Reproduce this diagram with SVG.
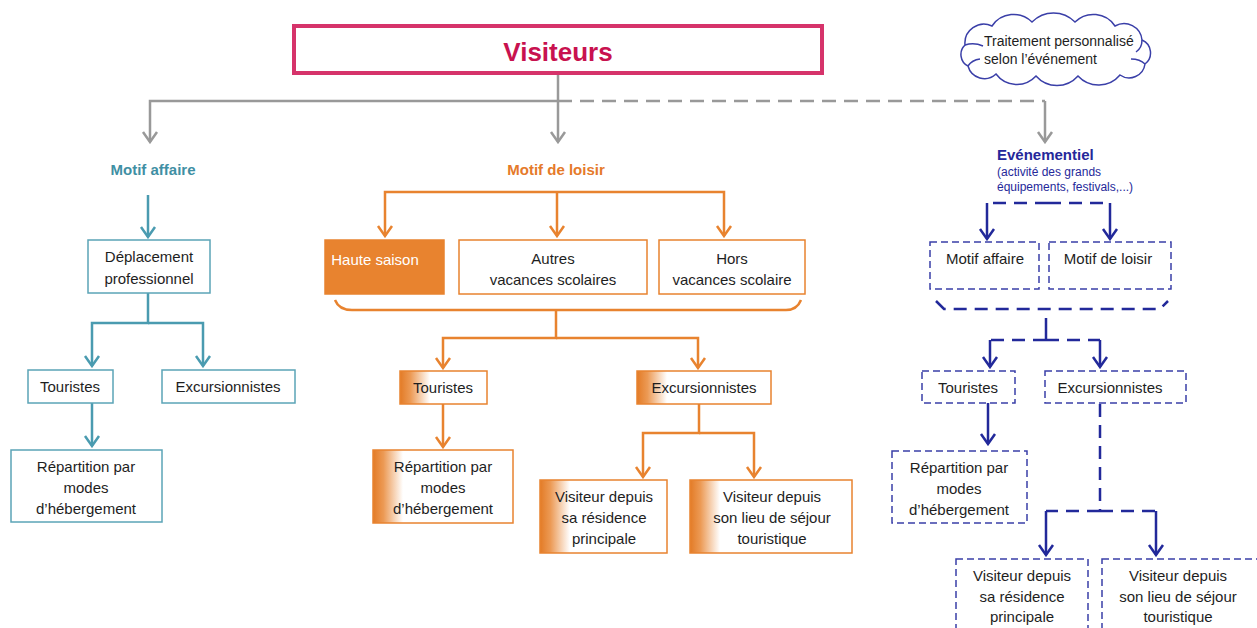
<svg xmlns="http://www.w3.org/2000/svg" width="1257" height="628" viewBox="0 0 1257 628">
<style>
text{font-family:"Liberation Sans","Open Sans",Arial,sans-serif;font-size:15px;fill:#1e1e1e;text-anchor:middle}
.t{font-weight:bold}
.teal{fill:#3f8fa4}
.or{fill:#e57a2a}
.nv{fill:#25289a}
.bx-t{fill:#fff;stroke:#5ba4b7;stroke-width:1.5}
.bx-o{fill:#fff;stroke:#e8832f;stroke-width:1.5}
.bx-b{fill:#fff;stroke:#3a3fa8;stroke-width:1.5;stroke-dasharray:7 4}
.c-g{fill:none;stroke:#999;stroke-width:2.5}
.c-t{fill:none;stroke:#4a9bb0;stroke-width:2.5}
.c-o{fill:none;stroke:#e8832f;stroke-width:2.5}
.c-b{fill:none;stroke:#22299a;stroke-width:2.5}
.dg{stroke-dasharray:14 8}
.db{stroke-dasharray:13 8}
</style>
<defs>
<linearGradient id="og" x1="0" y1="0" x2="1" y2="0">
<stop offset="0" stop-color="#e37b26"/>
<stop offset="0.35" stop-color="#ec9a55"/>
<stop offset="1" stop-color="#ffffff"/>
</linearGradient>
<marker id="ag" viewBox="-2 -2 14 18" refX="10" refY="7" markerWidth="14" markerHeight="18" markerUnits="userSpaceOnUse" orient="auto"><path d="M0,0 L10,7 L0,14" fill="none" stroke="#999" stroke-width="2.5" stroke-dasharray="none"/></marker>
<marker id="at" viewBox="-2 -2 14 18" refX="10" refY="7" markerWidth="14" markerHeight="18" markerUnits="userSpaceOnUse" orient="auto"><path d="M0,0 L10,7 L0,14" fill="none" stroke="#4a9bb0" stroke-width="2.5" stroke-dasharray="none"/></marker>
<marker id="ao" viewBox="-2 -2 14 18" refX="10" refY="7" markerWidth="14" markerHeight="18" markerUnits="userSpaceOnUse" orient="auto"><path d="M0,0 L10,7 L0,14" fill="none" stroke="#e8832f" stroke-width="2.5" stroke-dasharray="none"/></marker>
<marker id="ab" viewBox="-2 -2 14 18" refX="10" refY="7" markerWidth="14" markerHeight="18" markerUnits="userSpaceOnUse" orient="auto"><path d="M0,0 L10,7 L0,14" fill="none" stroke="#22299a" stroke-width="2.5" stroke-dasharray="none"/></marker>
</defs>
<rect width="1257" height="628" fill="#fff"/>

<g id="connectors">
<path class="c-g" d="M558,74 V142" marker-end="url(#ag)"/>
<path class="c-g" d="M558,101 H150 V142" marker-end="url(#ag)"/>
<path class="c-g dg" d="M558,101 H1045"/>
<path class="c-g" d="M1045,101 V142" marker-end="url(#ag)"/>

<path class="c-t" d="M148,195 V237" marker-end="url(#at)"/>
<path class="c-t" d="M148,293 V323 H92 V366" marker-end="url(#at)"/>
<path class="c-t" d="M148,323 H203 V366" marker-end="url(#at)"/>
<path class="c-t" d="M92,403 V446" marker-end="url(#at)"/>

<path class="c-o" d="M557,192 V236" marker-end="url(#ao)"/>
<path class="c-o" d="M557,192 H385 V236" marker-end="url(#ao)"/>
<path class="c-o" d="M557,192 H724 V236" marker-end="url(#ao)"/>
<path class="c-o" d="M335,300 Q339,310 352,310 H786 Q797,310 801,300"/>
<path class="c-o" d="M556,310 V338 H443 V368" marker-end="url(#ao)"/>
<path class="c-o" d="M556,338 H698 V368" marker-end="url(#ao)"/>
<path class="c-o" d="M443,403 V447" marker-end="url(#ao)"/>
<path class="c-o" d="M699,403 V433 H643 V477" marker-end="url(#ao)"/>
<path class="c-o" d="M699,433 H754 V477" marker-end="url(#ao)"/>

<path class="c-b db" d="M1048,203 H987"/>
<path class="c-b db" d="M1048,203 H1110"/>
<path class="c-b" d="M987,203 V239" marker-end="url(#ab)"/>
<path class="c-b" d="M1110,203 V239" marker-end="url(#ab)"/>
<path class="c-b db" d="M936,301 L944,309 H1160 L1168,301"/>
<path class="c-b" d="M1046,318 V340"/>
<path class="c-b db" d="M1046,340 H990"/>
<path class="c-b db" d="M1046,340 H1100"/>
<path class="c-b" d="M990,340 V367" marker-end="url(#ab)"/>
<path class="c-b" d="M1100,340 V367" marker-end="url(#ab)"/>
<path class="c-b" d="M988,403 V444" marker-end="url(#ab)"/>
<path class="c-b db" d="M1100,404 V511"/>
<path class="c-b db" d="M1100,511 H1046"/>
<path class="c-b db" d="M1100,511 H1156"/>
<path class="c-b" d="M1046,511 V555" marker-end="url(#ab)"/>
<path class="c-b" d="M1156,511 V555" marker-end="url(#ab)"/>
</g>

<g id="visiteurs">
<rect x="294" y="26" width="528" height="47" fill="#fff" stroke="#d6336b" stroke-width="4"/>
<text x="558" y="61" class="t" style="font-size:26px;fill:#c8124f">Visiteurs</text>
</g>

<g id="cloud">
<path d="M965,45 A19,19 0 0 1 992,26 A26,26 0 0 1 1032,22 A30,30 0 0 1 1075,22 A26,26 0 0 1 1115,26 A18,18 0 0 1 1142,40 A14,14 0 0 1 1145,64 A16,16 0 0 1 1120,75 A28,28 0 0 1 1078,76 A28,28 0 0 1 1036,76 A26,26 0 0 1 996,74 A17,17 0 0 1 968,66 A13,13 0 0 1 965,45 Z" fill="#fff" stroke="#3a3fa8" stroke-width="1.5"/>
<path d="M965,45 q9,-3 18,1 M968,66 q4,-6 12,-7 M1142,40 q0,8 -6,12 M1145,64 q-5,-5 -14,-5" fill="none" stroke="#3a3fa8" stroke-width="1.5"/>
<text x="984" y="46" style="text-anchor:start;font-size:14px">Traitement personnalisé</text>
<text x="984" y="64" style="text-anchor:start;font-size:14px">selon l’événement</text>
</g>

<g id="motif-affaire">
<text x="153" y="175" class="t teal">Motif affaire</text>
</g>
<g id="deplacement">
<rect class="bx-t" x="88" y="240" width="122" height="53"/>
<text x="149" y="262">Déplacement</text>
<text x="149" y="284">professionnel</text>
</g>
<g id="a-touristes">
<rect class="bx-t" x="28" y="370" width="85" height="33"/>
<text x="70" y="392">Touristes</text>
</g>
<g id="a-excursionnistes">
<rect class="bx-t" x="162" y="370" width="133" height="33"/>
<text x="228" y="392">Excursionnistes</text>
</g>
<g id="a-repartition">
<rect class="bx-t" x="11" y="450" width="151" height="72"/>
<text x="86" y="472">Répartition par</text>
<text x="86" y="493">modes</text>
<text x="86" y="514">d’hébergement</text>
</g>

<g id="motif-loisir">
<text x="556" y="175" class="t or">Motif de loisir</text>
</g>
<g id="haute-saison">
<rect x="325" y="240" width="119" height="54" fill="#e8832f" stroke="#e8832f" stroke-width="1.5"/>
<text x="375" y="265" style="fill:#fff">Haute saison</text>
</g>
<g id="autres-vacances">
<rect class="bx-o" x="459" y="240" width="188" height="54"/>
<text x="553" y="264">Autres</text>
<text x="553" y="285">vacances scolaires</text>
</g>
<g id="hors-vacances">
<rect class="bx-o" x="659" y="240" width="146" height="54"/>
<text x="732" y="264">Hors</text>
<text x="732" y="285">vacances scolaire</text>
</g>
<g id="l-touristes">
<rect x="400" y="371" width="87" height="33" fill="#fff"/>
<rect x="400" y="371" width="30" height="33" fill="url(#og)"/>
<rect class="bx-o" x="400" y="371" width="87" height="33" style="fill:none"/>
<text x="443" y="393">Touristes</text>
</g>
<g id="l-excursionnistes">
<rect x="637" y="371" width="134" height="33" fill="#fff"/>
<rect x="637" y="371" width="30" height="33" fill="url(#og)"/>
<rect class="bx-o" x="637" y="371" width="134" height="33" style="fill:none"/>
<text x="704" y="393">Excursionnistes</text>
</g>
<g id="l-repartition">
<rect x="373" y="450" width="140" height="73" fill="#fff"/>
<rect x="373" y="450" width="30" height="73" fill="url(#og)"/>
<rect class="bx-o" x="373" y="450" width="140" height="73" style="fill:none"/>
<text x="443" y="472">Répartition par</text>
<text x="443" y="493">modes</text>
<text x="443" y="514">d’hébergement</text>
</g>
<g id="l-residence">
<rect x="540" y="480" width="127" height="73" fill="#fff"/>
<rect x="540" y="480" width="30" height="73" fill="url(#og)"/>
<rect class="bx-o" x="540" y="480" width="127" height="73" style="fill:none"/>
<text x="604" y="502">Visiteur depuis</text>
<text x="604" y="523">sa résidence</text>
<text x="604" y="544">principale</text>
</g>
<g id="l-sejour">
<rect x="690" y="480" width="162" height="73" fill="#fff"/>
<rect x="690" y="480" width="30" height="73" fill="url(#og)"/>
<rect class="bx-o" x="690" y="480" width="162" height="73" style="fill:none"/>
<text x="772" y="502">Visiteur depuis</text>
<text x="772" y="523">son lieu de séjour</text>
<text x="772" y="544">touristique</text>
</g>

<g id="evenementiel">
<text x="997" y="160" class="t nv" style="text-anchor:start">Evénementiel</text>
<text x="997" y="176" class="nv" style="text-anchor:start;font-size:12px">(activité des grands</text>
<text x="997" y="191" class="nv" style="text-anchor:start;font-size:12px">équipements, festivals,...)</text>
</g>
<g id="e-motif-affaire">
<rect class="bx-b" x="930" y="242" width="109" height="47"/>
<text x="985" y="264">Motif affaire</text>
</g>
<g id="e-motif-loisir">
<rect class="bx-b" x="1049" y="242" width="122" height="47"/>
<text x="1108" y="264">Motif de loisir</text>
</g>
<g id="e-touristes">
<rect class="bx-b" x="922" y="371" width="93" height="32"/>
<text x="968" y="393">Touristes</text>
</g>
<g id="e-excursionnistes">
<rect class="bx-b" x="1045" y="371" width="141" height="32"/>
<text x="1110" y="393">Excursionnistes</text>
</g>
<g id="e-repartition">
<rect class="bx-b" x="892" y="451" width="135" height="72"/>
<text x="959" y="473">Répartition par</text>
<text x="959" y="494">modes</text>
<text x="959" y="515">d’hébergement</text>
</g>
<g id="e-residence">
<rect class="bx-b" x="956" y="559" width="132" height="80"/>
<text x="1022" y="581">Visiteur depuis</text>
<text x="1022" y="602">sa résidence</text>
<text x="1022" y="622">principale</text>
</g>
<g id="e-sejour">
<rect class="bx-b" x="1102" y="559" width="170" height="80"/>
<text x="1178" y="581">Visiteur depuis</text>
<text x="1178" y="602">son lieu de séjour</text>
<text x="1178" y="622">touristique</text>
</g>
</svg>
